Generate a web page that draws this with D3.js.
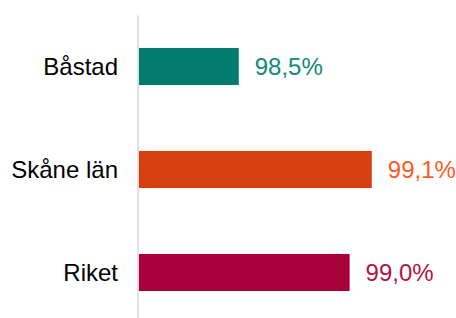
<!DOCTYPE html>
<html>
<head>
<meta charset="utf-8">
<script src="https://cdn.jsdelivr.net/npm/d3@7"></script>
<style>
  body { margin: 0; background: #fff; }
  svg { display: block; }
</style>
</head>
<body>
<div id="bar_chart"></div>
<script>
var categories = ["Båstad", "Skåne län", "Riket"];
var values = [98.5, 99.1, 99.0];
var barColors = ["#007b6e", "#d63f10", "#a8003a"];
var labelColors = ["#13897a", "#ff5a1f", "#b01545"];

var w = 456,
    h = 318;

var svg = d3.select("#bar_chart")
    .append("svg")
    .attr("width", w)
    .attr("height", h);

var x0 = 139;

var x = d3.scaleLinear()
    .domain([98.05, 99.9])
    .range([x0, x0 + 1.85 * 221.7]);

var y = d3.scaleBand()
    .domain(categories)
    .range([15, 324])
    .paddingInner(0.64)
    .paddingOuter(0.32);

var data = categories.map(function(c, i) {
  return { name: c, value: values[i], bar: barColors[i], label: labelColors[i] };
});

// axis line
svg.append("line")
    .attr("x1", x0 - 1)
    .attr("x2", x0 - 1)
    .attr("y1", 15)
    .attr("y2", h)
    .style("stroke", "#d9d9d9")
    .style("stroke-width", 1.5);

svg.selectAll(".bar")
    .data(data)
  .enter().append("rect")
    .attr("class", "bar")
    .attr("x", x0)
    .attr("y", function(d) { return y(d.name); })
    .attr("width", function(d) { return x(d.value) - x0; })
    .attr("height", y.bandwidth())
    .style("fill", function(d) { return d.bar; });

svg.selectAll(".cat")
    .data(data)
  .enter().append("text")
    .attr("class", "cat")
    .attr("x", x0 - 21)
    .attr("y", function(d) { return y(d.name) + y.bandwidth() / 2; })
    .attr("dy", "0.35em")
    .attr("text-anchor", "end")
    .attr("font-family", "Liberation Sans, Arial, sans-serif")
    .attr("font-size", "24px")
    .attr("fill", "#000")
    .text(function(d) { return d.name; });

svg.selectAll(".val")
    .data(data)
  .enter().append("text")
    .attr("class", "val")
    .attr("x", function(d) { return x(d.value) + 16; })
    .attr("y", function(d) { return y(d.name) + y.bandwidth() / 2; })
    .attr("dy", "0.35em")
    .attr("font-family", "Liberation Sans, Arial, sans-serif")
    .attr("font-size", "24px")
    .attr("fill", function(d) { return d.label; })
    .text(function(d) { return d.value.toFixed(1).replace(".", ",") + "%"; });
</script>
</body>
</html>
